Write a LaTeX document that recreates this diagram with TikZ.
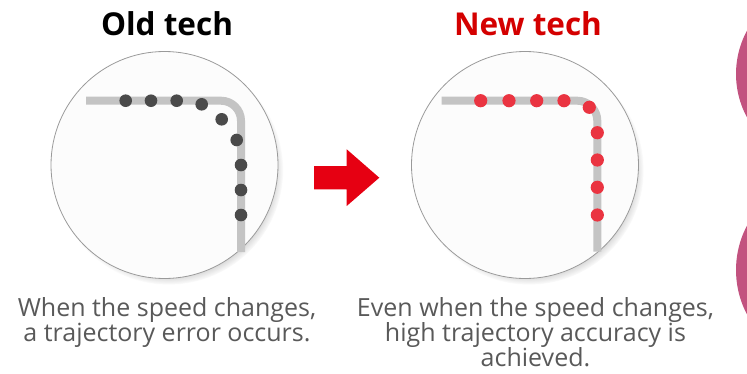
\documentclass[tikz,border=0pt]{standalone}
\usepackage{fontspec}
\setmainfont{Open Sans}
\usepackage{tikz}
\usetikzlibrary{positioning,shadows}

\definecolor{LensFill}{HTML}{FCFCFC}
\definecolor{LensRim}{HTML}{9A9A9A}
\definecolor{TrackGray}{HTML}{C4C4C4}
\definecolor{OldDot}{HTML}{4A4A4A}
\definecolor{NewDot}{HTML}{EA3441}
\definecolor{ArrowRed}{HTML}{E60012}
\definecolor{TitleRed}{HTML}{D40000}
\definecolor{CaptionGray}{HTML}{595959}
\definecolor{BadgePink}{HTML}{C2527F}

\begin{document}
\begin{tikzpicture}[x=1pt, y=-1pt,
      every node/.append style={inner sep=0pt},
      lens/.style={circle, minimum size=227pt, fill=LensFill, draw=LensRim, line width=0.8pt,
        circular drop shadow={shadow xshift=4pt, shadow yshift=-5pt, shadow scale=1.01, opacity=.6}},
      title/.style={font=\fontsize{31.5}{36}\selectfont\bfseries},
      caption/.style={font=\fontsize{25}{25}\selectfont, text=CaptionGray, align=center},
      track/.style={draw=TrackGray, line width=8pt, rounded corners=20pt}]
    \tikzstyle{olddot} = [circle, fill=OldDot, minimum size=12.6pt]
    \tikzstyle{newdot} = [circle, fill=NewDot, minimum size=13.2pt]
    \tikzstyle{badge} = [circle, fill=BadgePink]
    \useasboundingbox (0,0) rectangle (747,373);
    \clip (0,0) rectangle (747,373);

    % old technique
    \node [lens] (oldlens) at (164.5,165) {};
    \node [title, above=15.5pt of oldlens, xshift=2.5pt] (oldtitle) {Old tech};
    \coordinate (oldstart) at (86,100.7);
    \coordinate (oldbend) at (241,100.7);
    \coordinate (oldend) at (241,252);
    \draw [track] (oldstart) -- (oldbend) -- (oldend);
    \foreach \x/\y [count=\i] in {125.7/100.7, 151/100.7, 176.7/100.7, 201.7/104.3,
        221.7/119.3, 236.7/140, 241/165, 241/190, 241/215}
      \node [olddot] (old\i) at (\x,\y) {};
    \node [caption, below=18.5pt of oldlens, xshift=2.5pt] (oldtext)
      {When the speed changes,\\a trajectory error occurs.};

    % arrow between
    \fill [ArrowRed] (314,166) -- (346.7,166) -- (346.7,149.3) -- (379.3,177.7)
      -- (346.7,206) -- (346.7,189.3) -- (314,189.3) -- cycle;

    % new technique
    \node [lens] (newlens) at (525,165) {};
    \node [title, text=TitleRed, above=15.5pt of newlens, xshift=3pt] (newtitle) {New tech};
    \coordinate (newstart) at (441.7,100.7);
    \coordinate (newbend) at (597.3,100.7);
    \coordinate (newend) at (597.3,251.7);
    \draw [track] (newstart) -- (newbend) -- (newend);
    \foreach \x/\y [count=\i] in {480.7/100.7, 509/100.7, 536.7/100.7, 564/100.7,
        589.3/107.3, 597.3/132.7, 597.3/160, 597.3/187.3, 597.3/215}
      \node [newdot] (new\i) at (\x,\y) {};
    \node [caption, below=18.5pt of newlens, xshift=10.5pt] (newtext)
      {Even when the speed changes,\\high trajectory accuracy is\\achieved.};

    % cut-off badges at the right edge
    \node [badge, minimum size=182pt] (badgetop) at (827,74) {};
    \node [badge, minimum size=190pt] (badgebottom) at (831,270) {};
\end{tikzpicture}
\end{document}
